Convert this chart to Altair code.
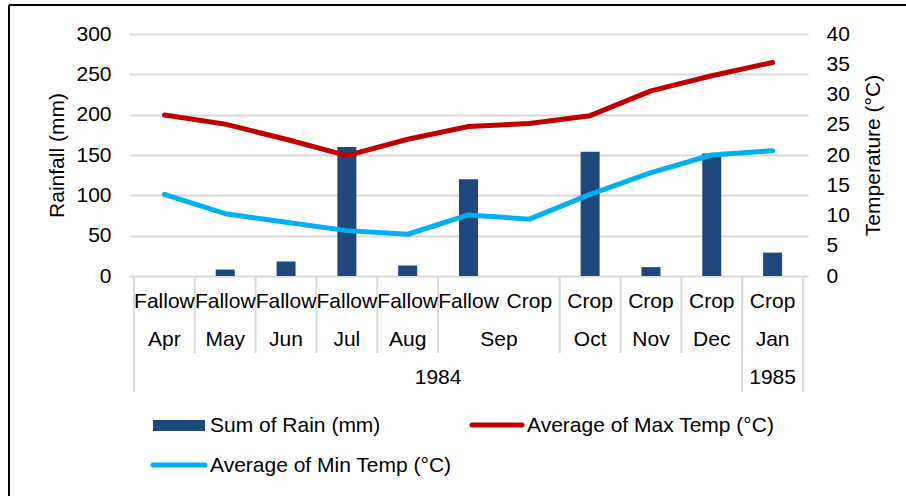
import altair as alt
import pandas as pd

# ---- data ----
years = ["1984"] * 10 + ["1985"]
months = ["Apr", "May", "Jun", "Jul", "Aug", "Sep", "Sep", "Oct", "Nov", "Dec", "Jan"]
phases = ["Fallow"] * 6 + ["Crop"] * 5
rain = [0, 8, 18, 160, 13, 120, 0, 154, 11, 152, 29]
max_temp = [26.6, 25.1, 22.6, 19.9, 22.6, 24.7, 25.2, 26.5, 30.6, 33.1, 35.3]
min_temp = [13.5, 10.3, 8.9, 7.5, 6.9, 10.1, 9.4, 13.5, 17.1, 20.0, 20.7]
legend_labels = ["Sum of Rain (mm)", "Average of Max Temp (°C)", "Average of Min Temp (°C)"]

FONT = "Liberation Sans"
FS = 21
BAR_C = "#1f497d"
RED = "#c00000"
CYAN = "#00b0f0"
GRID = "#d9d9d9"

n = len(months)
df = pd.DataFrame({"idx": list(range(n)), "year": years, "month": months,
                   "phase": phases, "rain": rain, "maxT": max_temp, "minT": min_temp})

lines_df = pd.concat([
    pd.DataFrame({"idx": list(range(n)), "series": "max", "temp": max_temp}),
    pd.DataFrame({"idx": list(range(n)), "series": "min", "temp": min_temp}),
])


def runs(labels):
    out = []
    start = 0
    for i in range(1, len(labels) + 1):
        if i == len(labels) or labels[i] != labels[i - 1]:
            out.append({"label": labels[start], "start": start, "end": i})
            start = i
    return pd.DataFrame(out)


month_keys = [y + m for y, m in zip(years, months)]
month_runs = runs(month_keys)
month_runs["label"] = [months[s] for s in month_runs["start"]]
year_runs = runs(years)

month_bounds = pd.DataFrame({"b": sorted(set(list(month_runs["start"]) + [n]))})
year_bounds = pd.DataFrame({"b": sorted(set(list(year_runs["start"]) + [n]))})

xscale = alt.Scale(domain=[0, n], nice=False, zero=False)

bars = alt.Chart(df).transform_calculate(xc="datum.idx + 0.5").mark_bar(
    size=19, orient="vertical", color=BAR_C
).encode(
    x=alt.X("xc:Q", scale=xscale, axis=None),
    y=alt.Y("rain:Q", scale=alt.Scale(domain=[0, 300], nice=False),
            axis=alt.Axis(values=list(range(0, 301, 50)), title="Rainfall (mm)",
                          grid=True, gridColor=GRID, gridWidth=2, domain=False,
                          ticks=False, labelFontSize=FS, labelPadding=18,
                          labelFont=FONT, titleFont=FONT, titleFontSize=FS,
                          titleFontWeight="normal", titleColor="#000",
                          labelColor="#000", titlePadding=8)),
)

lines = alt.Chart(lines_df).transform_calculate(xc="datum.idx + 0.5").mark_line(
    strokeWidth=5, strokeCap="round", strokeJoin="round"
).encode(
    x=alt.X("xc:Q", scale=xscale, axis=None),
    y=alt.Y("temp:Q", scale=alt.Scale(domain=[0, 40], nice=False),
            axis=alt.Axis(orient="right", values=list(range(0, 41, 5)),
                          title="Temperature (°C)", grid=False, domain=False,
                          ticks=False, labelFontSize=FS, labelPadding=18,
                          labelFont=FONT, titleFont=FONT, titleFontSize=FS,
                          titleFontWeight="normal", titleColor="#000",
                          labelColor="#000", titleAngle=270, titleX=65,
                          titleY=121, titleAlign="center", titleBaseline="middle")),
    color=alt.Color("series:N", scale=alt.Scale(domain=["max", "min"], range=[RED, CYAN]),
                    legend=None),
    order="idx:Q",
)

phase_text = alt.Chart(df).transform_calculate(xc="datum.idx + 0.5").mark_text(
    font=FONT, fontSize=FS, color="#000", baseline="middle", align="center"
).encode(x=alt.X("xc:Q", scale=xscale, axis=None), y=alt.value(268), text="phase:N")

month_text = alt.Chart(month_runs).transform_calculate(
    xc="(datum.start + datum.end) / 2").mark_text(
    font=FONT, fontSize=FS, color="#000", baseline="middle", align="center"
).encode(x=alt.X("xc:Q", scale=xscale, axis=None), y=alt.value(306), text="label:N")

year_text = alt.Chart(year_runs).transform_calculate(
    xc="(datum.start + datum.end) / 2").mark_text(
    font=FONT, fontSize=FS, color="#000", baseline="middle", align="center"
).encode(x=alt.X("xc:Q", scale=xscale, axis=None), y=alt.value(344), text="label:N")

month_sep = alt.Chart(month_bounds).mark_rule(color=GRID, strokeWidth=2).encode(
    x=alt.X("b:Q", scale=xscale, axis=None), y=alt.value(242), y2=alt.value(319))

year_sep = alt.Chart(year_bounds).mark_rule(color=GRID, strokeWidth=2).encode(
    x=alt.X("b:Q", scale=xscale, axis=None), y=alt.value(242), y2=alt.value(358))

# ---- legend ----
leg_df = pd.DataFrame({"label": legend_labels})
leg_rect = alt.Chart(leg_df).transform_filter("datum.label == 'Sum of Rain (mm)'").mark_rect(
    color=BAR_C).encode(x=alt.value(24), x2=alt.value(76), y=alt.value(386), y2=alt.value(397))
leg_red = alt.Chart(leg_df).transform_filter("indexof(datum.label, 'Max') >= 0").mark_rule(
    color=RED, strokeWidth=5, strokeCap="round").encode(
    x=alt.value(343), x2=alt.value(393), y=alt.value(391))
leg_cyan = alt.Chart(leg_df).transform_filter("indexof(datum.label, 'Min') >= 0").mark_rule(
    color=CYAN, strokeWidth=5, strokeCap="round").encode(
    x=alt.value(24), x2=alt.value(76), y=alt.value(431))
leg_t1 = alt.Chart(leg_df).transform_filter("datum.label == 'Sum of Rain (mm)'").mark_text(
    font=FONT, fontSize=FS, color="#000", align="left", baseline="middle").encode(
    x=alt.value(81), y=alt.value(392), text="label:N")
leg_t2 = alt.Chart(leg_df).transform_filter("indexof(datum.label, 'Max') >= 0").mark_text(
    font=FONT, fontSize=FS, color="#000", align="left", baseline="middle").encode(
    x=alt.value(398), y=alt.value(392), text="label:N")
leg_t3 = alt.Chart(leg_df).transform_filter("indexof(datum.label, 'Min') >= 0").mark_text(
    font=FONT, fontSize=FS, color="#000", align="left", baseline="middle").encode(
    x=alt.value(81), y=alt.value(432), text="label:N")

# ---- outer frame ----
frame_top = alt.Chart(leg_df.head(1)).mark_rule(color="#000", strokeWidth=2).encode(
    x=alt.value(-120), x2=alt.value(800), y=alt.value(-29))
frame_left = alt.Chart(leg_df.head(1)).mark_rule(color="#000", strokeWidth=2).encode(
    x=alt.value(-120), y=alt.value(-29), y2=alt.value(470))

chart = alt.layer(
    bars, lines, month_sep, year_sep, phase_text, month_text, year_text,
    leg_rect, leg_red, leg_cyan, leg_t1, leg_t2, leg_t3, frame_top, frame_left
).resolve_scale(y="independent").properties(
    width=679, height=242,
    autosize=alt.AutoSizeParams(type="none"),
    padding={"left": 129, "top": 34, "right": 98, "bottom": 220},
    background="white",
).configure_view(stroke=None)

chart.save("out.html", embed_options={"renderer": "svg", "actions": False})
